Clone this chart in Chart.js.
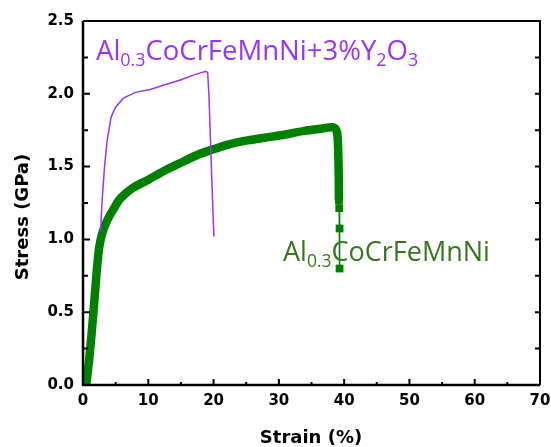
<!DOCTYPE html>
<html>
<head>
<meta charset="utf-8">
<script src="https://cdn.jsdelivr.net/npm/chart.js@4.4.0/dist/chart.umd.min.js"></script>
<style>
  html, body { margin: 0; padding: 0; background: #fff; }
  #wrap { width: 551px; height: 447px; }
</style>
</head>
<body>
<div id="wrap"><canvas id="stressChart"></canvas></div>
<script>
// Al0.3CoCrFeMnNi + 3%Y2O3 (thin purple curve)
const oxideStrain = [2.7, 2.93, 3.3, 3.7, 4.3, 5.0, 6.2, 8.0, 10.3, 12.4, 14.9, 17.0, 18.8, 19.1, 19.3, 19.5, 19.7, 19.9, 20.05];
const oxideStress = [1.06, 1.27, 1.5, 1.68, 1.84, 1.91, 1.97, 2.01, 2.03, 2.06, 2.095, 2.13, 2.155, 2.145, 1.98, 1.72, 1.45, 1.2, 1.02];

// Al0.3CoCrFeMnNi (thick green curve)
const baseStrain = [0.5, 1.0, 1.6, 2.1, 2.5, 3.0, 3.7, 4.7, 5.7, 7.5, 10.0, 12.4, 14.9, 17.5, 20.0, 22.5, 25.2, 28.0, 30.3, 33.9, 36.4, 38.2, 38.8, 39.0, 39.15, 39.2];
const baseStress = [0.0, 0.2, 0.5, 0.78, 0.95, 1.05, 1.13, 1.21, 1.28, 1.35, 1.41, 1.47, 1.525, 1.58, 1.62, 1.655, 1.68, 1.70, 1.715, 1.745, 1.76, 1.77, 1.75, 1.70, 1.50, 1.27];

// fracture tail of the green curve (separate square markers)
const tailStrain = [39.2, 39.25, 39.3, 39.3];
const tailStress = [1.27, 1.215, 1.075, 0.80];

const xMax = 70;
const yMax = 2.5;

const purple = '#9933ff';
const green = '#008000';
const greenText = '#38761d';

function toPoints(xs, ys) {
  return xs.map((x, i) => ({ x: x, y: ys[i] }));
}

// inward ticks + box frame
const framePlugin = {
  id: 'frame',
  afterDatasetsDraw(chart) {
    const { ctx, chartArea: a, scales: { x, y } } = chart;
    ctx.save();
    ctx.strokeStyle = '#000';
    ctx.lineWidth = 2;
    ctx.beginPath();
    ctx.moveTo(a.left, a.top);
    ctx.lineTo(a.right, a.top);
    ctx.lineTo(a.right, a.bottom);
    ctx.stroke();
    ctx.lineWidth = 2.5;
    ctx.beginPath();
    ctx.moveTo(a.left, a.top);
    ctx.lineTo(a.left, a.bottom);
    ctx.lineTo(a.right, a.bottom);
    ctx.stroke();

    ctx.lineWidth = 2;
    ctx.beginPath();
    for (let v = 5; v < xMax; v += 5) {
      const px = x.getPixelForValue(v);
      const len = v % 10 === 0 ? 6 : 3;
      ctx.moveTo(px, a.bottom);
      ctx.lineTo(px, a.bottom - len);
    }
    for (let i = 1; i < 10; i++) {
      const py = y.getPixelForValue(i * 0.25);
      const len = i % 2 === 0 ? 7 : 5;
      ctx.moveTo(a.left, py);
      ctx.lineTo(a.left + len, py);
      ctx.moveTo(a.right, py);
      ctx.lineTo(a.right - 5, py);
    }
    ctx.stroke();
    ctx.restore();
  }
};

function drawRich(ctx, parts, x, y, size, color) {
  let cx = x;
  ctx.fillStyle = color;
  ctx.textBaseline = 'alphabetic';
  ctx.textAlign = 'left';
  for (const [txt, sub] of parts) {
    const fs = sub ? size * 0.65 : size;
    ctx.font = fs + 'px "Open Sans"';
    ctx.fillText(txt, cx, sub ? y + size * 0.22 : y);
    cx += ctx.measureText(txt).width;
  }
}

// curve labels and axis titles
const textPlugin = {
  id: 'texts',
  afterDraw(chart) {
    const ctx = chart.ctx;
    ctx.save();
    drawRich(ctx, [['Al', 0], ['0.3', 1], ['CoCrFeMnNi+3%Y', 0], ['2', 1], ['O', 0], ['3', 1]], 96, 60, 27.5, purple);
    drawRich(ctx, [['Al', 0], ['0.3', 1], ['CoCrFeMnNi', 0]], 283, 261, 27, greenText);

    ctx.fillStyle = '#000';
    ctx.font = 'bold 18px "DejaVu Sans"';
    ctx.textAlign = 'center';
    ctx.textBaseline = 'alphabetic';
    ctx.fillText('Strain (%)', 311, 443);
    ctx.translate(28, 217);
    ctx.rotate(-Math.PI / 2);
    ctx.fillText('Stress (GPa)', 0, 0);
    ctx.restore();
  }
};

const tickFont = { family: 'DejaVu Sans', size: 15, weight: 'bold' };

const config = {
  type: 'scatter',
  data: {
    datasets: [
      {
        label: 'Al0.3CoCrFeMnNi+3%Y2O3',
        data: toPoints(oxideStrain, oxideStress),
        showLine: true,
        borderColor: purple,
        borderWidth: 1.5,
        pointRadius: 0,
        tension: 0
      },
      {
        label: 'Al0.3CoCrFeMnNi',
        data: toPoints(baseStrain, baseStress),
        showLine: true,
        borderColor: green,
        borderWidth: 8.5,
        borderJoinStyle: 'round',
        pointRadius: 0,
        tension: 0.3
      },
      {
        label: 'fracture',
        data: toPoints(tailStrain, tailStress),
        showLine: true,
        borderColor: green,
        borderWidth: 1.5,
        backgroundColor: green,
        pointStyle: 'rect',
        pointRadius: 5.5,
        pointBorderWidth: 0
      }
    ]
  },
  options: {
    responsive: true,
    maintainAspectRatio: false,
    animation: false,
    layout: { padding: { top: 21, right: 11, left: 0, bottom: 0 } },
    plugins: {
      legend: { display: false },
      tooltip: { enabled: false }
    },
    scales: {
      x: {
        type: 'linear',
        min: 0,
        max: xMax,
        grid: { display: false, drawTicks: false },
        border: { display: false },
        ticks: { stepSize: 10, font: tickFont, color: '#000', padding: 7 },
        afterFit(s) { s.height = 62; s.paddingLeft = 0; s.paddingRight = 0; }
      },
      y: {
        min: 0,
        max: yMax,
        grid: { display: false, drawTicks: false },
        border: { display: false },
        ticks: { stepSize: 0.5, font: tickFont, color: '#000', padding: 9, callback: (v) => v.toFixed(1) },
        afterFit(s) { s.width = 83; s.paddingTop = 0; s.paddingBottom = 0; }
      }
    }
  },
  plugins: [framePlugin, textPlugin]
};

const ctx = document.getElementById('stressChart').getContext('2d');
const stressChart = new Chart(ctx, config);
</script>
</body>
</html>
